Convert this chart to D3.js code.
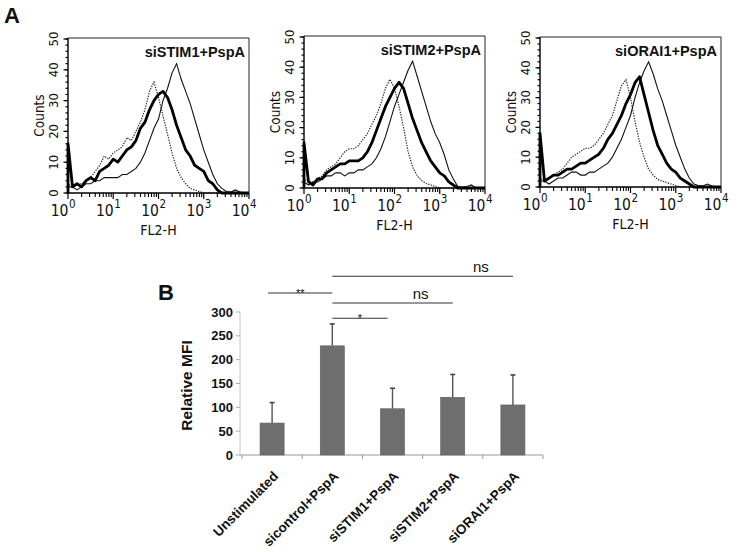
<!DOCTYPE html>
<html>
<head>
<meta charset="utf-8">
<script src="https://cdn.jsdelivr.net/npm/d3@7"></script>
<style>
  body { margin: 0; background: #fff; }
  svg { display: block; }
  text { font-family: Arial, "Liberation Sans", sans-serif; fill: #111; }
  .narrow { font-family: "Liberation Sans Narrow", "DejaVu Sans Condensed", sans-serif; }
</style>
</head>
<body>
<svg id="fig" width="737" height="552"></svg>
<script>
// ── Panel A: FACS histograms (x = log10 FL2-H, y = counts) ──
const binLog = [0.0,0.1,0.2,0.3,0.4,0.5,0.6,0.7,0.8,0.9,1.0,1.1,1.2,1.3,1.4,1.5,1.6,1.7,1.8,1.9,
                2.0,2.1,2.2,2.3,2.4,2.5,2.6,2.7,2.8,2.9,3.0,3.1,3.2,3.3,3.4,3.5,3.6,3.7,3.8,3.9,4.0];
const histTitles = ['siSTIM1+PspA', 'siSTIM2+PspA', 'siORAI1+PspA'];

// dotted = unstimulated, thin = sicontrol+PspA, thick = knockdown+PspA
const unstimCounts = [
  [3,2,3,3,4,5,7,9,12,11,13,14,15,18,17,20,23,27,33,36,31,25,19,13,8,5,3,1.5,1,0.5,0,0,0,0,0,0,0,0,0,0,0],
  [3,2,2,3,4,6,7,8,10,12,13,13,14,16,18,21,24,28,33,36,33,27,20,12,7,4,2.5,1.5,1,0.5,0,0,0,0,0,0,0,0,0,0,0],
  [3,2,3,4,5,6,8,10,11,12,13,13,14,16,18,21,24,29,34,36,30,22,15,10,6,4,2.5,2,1.5,1,0.5,0,0,0,0,0,0,0,0,0,0]
];
const controlCounts = [
  [2,2,1,2,3,3,4,4,5,5,5,5,6,6,7,8,10,13,17,21,24,30,34,39,42,37,33,29,24,19,14,10,6,3,1.5,0.5,0.3,1,0.3,0,0],
  [2,1,2,2,3,4,4,5,5,4,5,5,6,6,7,8,10,13,17,22,27,31,35,39,42,37,32,27,22,18,15,11,6,3,0.5,0.3,0.5,1,0,0,0],
  [2,2,1,2,3,3,4,5,5,4,4,5,5,6,7,8,10,13,16,20,24,30,35,39,42,38,33,29,24,19,14,10,6,3,1,0.5,0.3,1,0.3,0,0]
];
const knockdownCounts = [
  [16,2,3,2,4,5,4,7,8,9,11,10,12,14,15,17,21,23,27,30,32,33,31,27,22,18,14,12,9,8,7,4,3,1,0,0,0,0,0,0,0],
  [15,2,1,3,3,5,6,7,8,8,9,9,9,10,12,15,19,23,27,30,33,35,33,28,23,19,15,12,9,7,5,4,2,1,0,0,0,0,0,0,0],
  [18,2,3,4,4,5,6,6,7,8,8,9,10,11,13,16,18,21,24,28,31,35,37,31,25,19,14,11,8,6,5,3,2,1,0,0,0,0,0,0,0]
];
const countTicks  = [0, 10, 20, 30, 40, 50];
const decadeTicks = [0, 1, 2, 3, 4];

// ── Panel B: relative MFI bars ──
const categories = ['Unstimulated', 'sicontrol+PspA', 'siSTIM1+PspA', 'siSTIM2+PspA', 'siORAI1+PspA'];
const mfiMean  = [67, 229, 97, 121, 105];
const mfiUpper = [110, 275, 140, 169, 168];
const mfiTicks = [0, 50, 100, 150, 200, 250, 300];
// [from, to, label, height in MFI units]
const brackets = [
  ['Unstimulated',   'sicontrol+PspA', '**', 340],
  ['sicontrol+PspA', 'siSTIM1+PspA',   '*',  287],
  ['sicontrol+PspA', 'siSTIM2+PspA',   'ns', 319],
  ['sicontrol+PspA', 'siORAI1+PspA',   'ns', 375]
];

const svg = d3.select('#fig');

svg.append('text').attr('x', 4).attr('y', 23)
  .attr('font-size', 22).attr('font-weight', 'bold').text('A');
svg.append('text').attr('x', 158).attr('y', 300)
  .attr('font-size', 22).attr('font-weight', 'bold').text('B');

// ── Histograms ──
const panelLeft = [68, 304, 540];
const panelTop  = [38, 36, 37];
const panelBot  = [193, 188, 187];
const PW = 181;

histTitles.forEach((title, i) => {
  const L = panelLeft[i], T = panelTop[i], B = panelBot[i];
  const x = d3.scaleLinear().domain([0, 4]).range([L, L + PW]);
  const y = d3.scaleLinear().domain([0, 50]).range([B, T + 1]);
  const g = svg.append('g');

  // frame
  g.append('path')
    .attr('d', `M${L},${T} H${L + PW} V${B}`)
    .attr('fill', 'none').attr('stroke', '#222').attr('stroke-width', 1);

  // y ticks: minor every 2 counts, major every 10
  const minorY = d3.range(0, 51, 2);
  g.selectAll('.my').data(minorY).join('line')
    .attr('x1', L - 2.5).attr('x2', L).attr('y1', d => y(d)).attr('y2', d => y(d))
    .attr('stroke', '#000').attr('stroke-width', 1.2);
  g.selectAll('.My').data(countTicks).join('line')
    .attr('x1', L - 4.5).attr('x2', L).attr('y1', d => y(d)).attr('y2', d => y(d))
    .attr('stroke', '#000').attr('stroke-width', 1.2);
  g.selectAll('.yl').data(countTicks).join('text')
    .attr('class', 'narrow')
    .attr('transform', d => `translate(${L - 10},${y(d)}) rotate(-90)`)
    .attr('text-anchor', 'middle').attr('font-size', 13).text(d => d);
  g.append('text').attr('class', 'narrow')
    .attr('transform', `translate(${L - 24},${(T + B) / 2}) rotate(-90)`)
    .attr('text-anchor', 'middle').attr('font-size', 13.5).text('Counts');

  // x ticks: log minors and decades
  const minorX = [];
  decadeTicks.slice(0, -1).forEach(d => {
    for (let k = 2; k <= 9; k++) minorX.push(d + Math.log10(k));
  });
  g.selectAll('.mx').data(minorX).join('line')
    .attr('x1', d => x(d)).attr('x2', d => x(d)).attr('y1', B).attr('y2', B + 4)
    .attr('stroke', '#000').attr('stroke-width', 1.1);
  g.selectAll('.Mx').data(decadeTicks).join('line')
    .attr('x1', d => x(d)).attr('x2', d => x(d)).attr('y1', B).attr('y2', B + 6)
    .attr('stroke', '#000').attr('stroke-width', 1.2);
  g.selectAll('.xl').data(decadeTicks).join('text')
    .attr('class', 'narrow')
    .attr('x', d => x(d) + 0.5).attr('y', B + 23)
    .attr('text-anchor', 'end').attr('font-size', 15.5).text('10');
  g.selectAll('.xs').data(decadeTicks).join('text')
    .attr('class', 'narrow')
    .attr('x', d => x(d) + 1).attr('y', B + 15)
    .attr('font-size', 11.5).text(d => d);
  g.append('text').attr('class', 'narrow')
    .attr('x', L + PW / 2).attr('y', B + 42)
    .attr('text-anchor', 'middle').attr('font-size', 14).text('FL2-H');

  // curves
  const line = d3.line().x(d => x(d[0])).y(d => y(d[1]));
  const pts = arr => [[0, 0]].concat(binLog.map((b, j) => [b, arr[j]]));
  g.append('path').attr('d', line(pts(unstimCounts[i])))
    .attr('fill', 'none').attr('stroke', '#222').attr('stroke-width', 1.2)
    .attr('stroke-dasharray', '1.3,1.3');
  g.append('path').attr('d', line(pts(controlCounts[i])))
    .attr('fill', 'none').attr('stroke', '#111').attr('stroke-width', 1.1);
  g.append('path').attr('d', line(pts(knockdownCounts[i])))
    .attr('fill', 'none').attr('stroke', '#000').attr('stroke-width', 2.8)
    .attr('stroke-linejoin', 'round');

  // axes lines on top
  g.append('path')
    .attr('d', `M${L},${T} V${B} H${L + PW}`)
    .attr('fill', 'none').attr('stroke', '#000').attr('stroke-width', 1.4);

  g.append('text').attr('x', L + PW - 4).attr('y', T + 19)
    .attr('text-anchor', 'end').attr('font-size', 14.5).attr('font-weight', 'bold')
    .text(title);
});

// ── Bar chart ──
const bx = d3.scaleBand().domain(categories).range([242, 543])
  .paddingInner(0.6).paddingOuter(0.3);
const by = d3.scaleLinear().domain([0, 300]).range([455, 312]);
const gb = svg.append('g');

gb.append('line').attr('x1', 240).attr('x2', 240).attr('y1', by(300)).attr('y2', by(0))
  .attr('stroke', '#c8c8c8').attr('stroke-width', 1);
gb.selectAll('.yt').data(mfiTicks).join('line')
  .attr('x1', 236).attr('x2', 240).attr('y1', d => by(d)).attr('y2', d => by(d))
  .attr('stroke', '#aaa').attr('stroke-width', 1);
gb.selectAll('.yl').data(mfiTicks).join('text')
  .attr('x', 233).attr('y', d => by(d) + 4.5)
  .attr('text-anchor', 'end').attr('font-size', 13).attr('font-weight', 'bold')
  .text(d => d);
gb.append('text')
  .attr('transform', `translate(192,${(by(0) + by(300)) / 2 + 2}) rotate(-90)`)
  .attr('text-anchor', 'middle').attr('font-size', 15.5).attr('font-weight', 'bold')
  .text('Relative MFI');

// x axis
gb.append('line').attr('x1', 240).attr('x2', 543).attr('y1', by(0)).attr('y2', by(0))
  .attr('stroke', '#999').attr('stroke-width', 1);
const bounds = categories.map(c => bx(c) - bx.step() * 0.3).concat([543]);
gb.selectAll('.xt').data(bounds).join('line')
  .attr('x1', d => d).attr('x2', d => d).attr('y1', by(0)).attr('y2', by(0) + 4)
  .attr('stroke', '#999').attr('stroke-width', 1);

// error whiskers (upper only)
gb.selectAll('.err').data(categories).join('line')
  .attr('x1', c => bx(c) + bx.bandwidth() / 2).attr('x2', c => bx(c) + bx.bandwidth() / 2)
  .attr('y1', (c, i) => by(mfiMean[i])).attr('y2', (c, i) => by(mfiUpper[i]))
  .attr('stroke', '#555').attr('stroke-width', 1.4);
gb.selectAll('.cap').data(categories).join('line')
  .attr('x1', c => bx(c) + bx.bandwidth() / 2 - 2.5).attr('x2', c => bx(c) + bx.bandwidth() / 2 + 2.5)
  .attr('y1', (c, i) => by(mfiUpper[i])).attr('y2', (c, i) => by(mfiUpper[i]))
  .attr('stroke', '#444').attr('stroke-width', 1.6);

gb.selectAll('.bar').data(categories).join('rect')
  .attr('x', c => bx(c)).attr('width', bx.bandwidth())
  .attr('y', (c, i) => by(mfiMean[i])).attr('height', (c, i) => by(0) - by(mfiMean[i]))
  .attr('fill', '#6e6e6e').attr('stroke', '#5e5e5e').attr('stroke-width', 0.6);

gb.selectAll('.cl').data(categories).join('text')
  .attr('transform', c => `translate(${bx(c) + bx.bandwidth() / 2 + 7},${by(0) + 22}) rotate(-45)`)
  .attr('text-anchor', 'end').attr('font-size', 13.5).attr('font-weight', 'bold')
  .text(c => c);

// significance brackets
const cx = c => bx(c) + bx.bandwidth() / 2;
brackets.forEach(([a, b, lab, h]) => {
  const x1 = cx(a) - (a === 'Unstimulated' ? 4 : 0);
  const x2 = cx(b) - (b === 'siSTIM1+PspA' ? 5 : 0);
  gb.append('line').attr('x1', x1).attr('x2', x2).attr('y1', by(h)).attr('y2', by(h))
    .attr('stroke', '#333').attr('stroke-width', 1.1);
  const isNs = lab === 'ns';
  gb.append('text')
    .attr('x', isNs ? x2 - 32 : (x1 + x2) / 2)
    .attr('y', by(h) + (isNs ? -4 : 4))
    .attr('text-anchor', 'middle')
    .attr('font-size', isNs ? 15 : 11)
    .text(lab);
});
</script>
</body>
</html>
